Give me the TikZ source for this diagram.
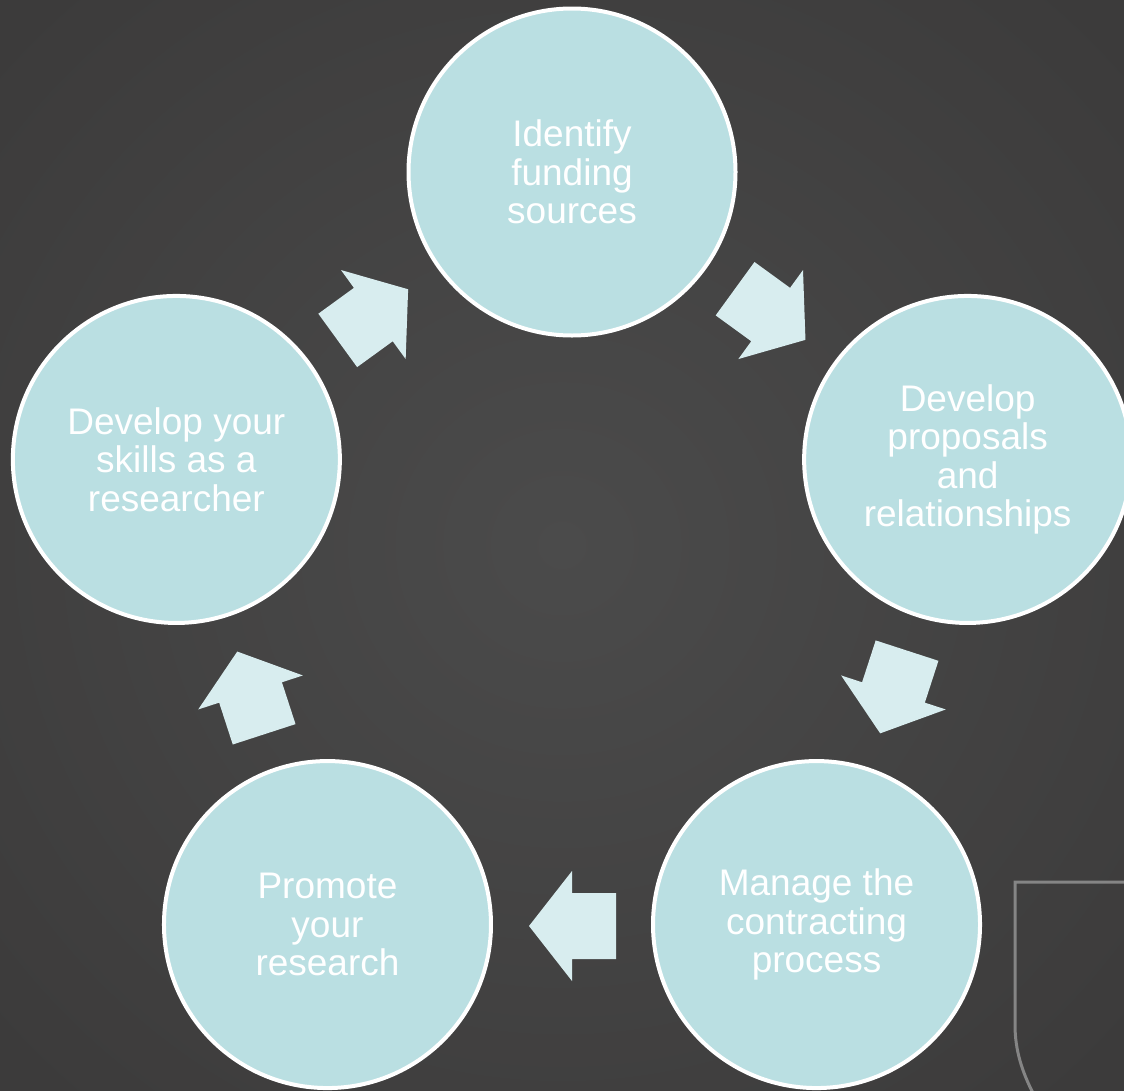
\documentclass[tikz,border=0pt]{standalone}
\usepackage{fontspec}
\setmainfont{Liberation Sans}
\usetikzlibrary{calc}
\definecolor{bgin}{HTML}{4B4B4B}
\definecolor{bgout}{HTML}{3C3B3B}
\definecolor{cfill}{HTML}{BADFE2}
\definecolor{afill}{HTML}{D8EDEF}
\definecolor{shieldc}{HTML}{858585}
\tikzset{
  stage/.style={circle, draw=white, line width=4pt, fill=cfill, minimum size=327pt, inner sep=0pt,
    text=white, align=center, font=\fontsize{37}{38.5}\selectfont},
  blockarrow/.pic={\fill[afill] (-44,-33) -- (0,-33) -- (0,-55) -- (43,0) -- (0,55) -- (0,33) -- (-44,33) -- cycle;}
}
\begin{document}
\begin{tikzpicture}[x=1pt,y=1pt]
\useasboundingbox (0,0) rectangle (1124,-1090);
\clip (0,0) rectangle (1124,-1090);
\shade[inner color=bgin, outer color=bgout] (-200,200) rectangle (1324,-1290);
\coordinate (O) at (572,-588);
% shield outline
\draw[shieldc, line width=3pt] (1130,-882) -- (1015,-882) -- (1015,-1025) .. controls (1015,-1050) and (1022,-1072) .. (1034,-1095);
% stages
\node[stage] (s1) at ($(O)+(90:416)$) {Identify\\funding\\sources};
\node[stage] (s2) at ($(O)+(18:416)$) {Develop\\proposals\\and\\relationships};
\node[stage] (s3) at ($(O)+(-54:416)$) {Manage the\\contracting\\process};
\node[stage] (s4) at ($(O)+(-126:416)$) {Promote\\your\\research};
\node[stage] (s5) at ($(O)+(162:416)$) {Develop your\\skills as a\\researcher};
% arrows
\foreach \a in {54,-18,-90,-162,126}{
  \pic[rotate=\a-90] at ($(O)+(\a:338)$) {blockarrow};
}
\end{tikzpicture}
\end{document}
